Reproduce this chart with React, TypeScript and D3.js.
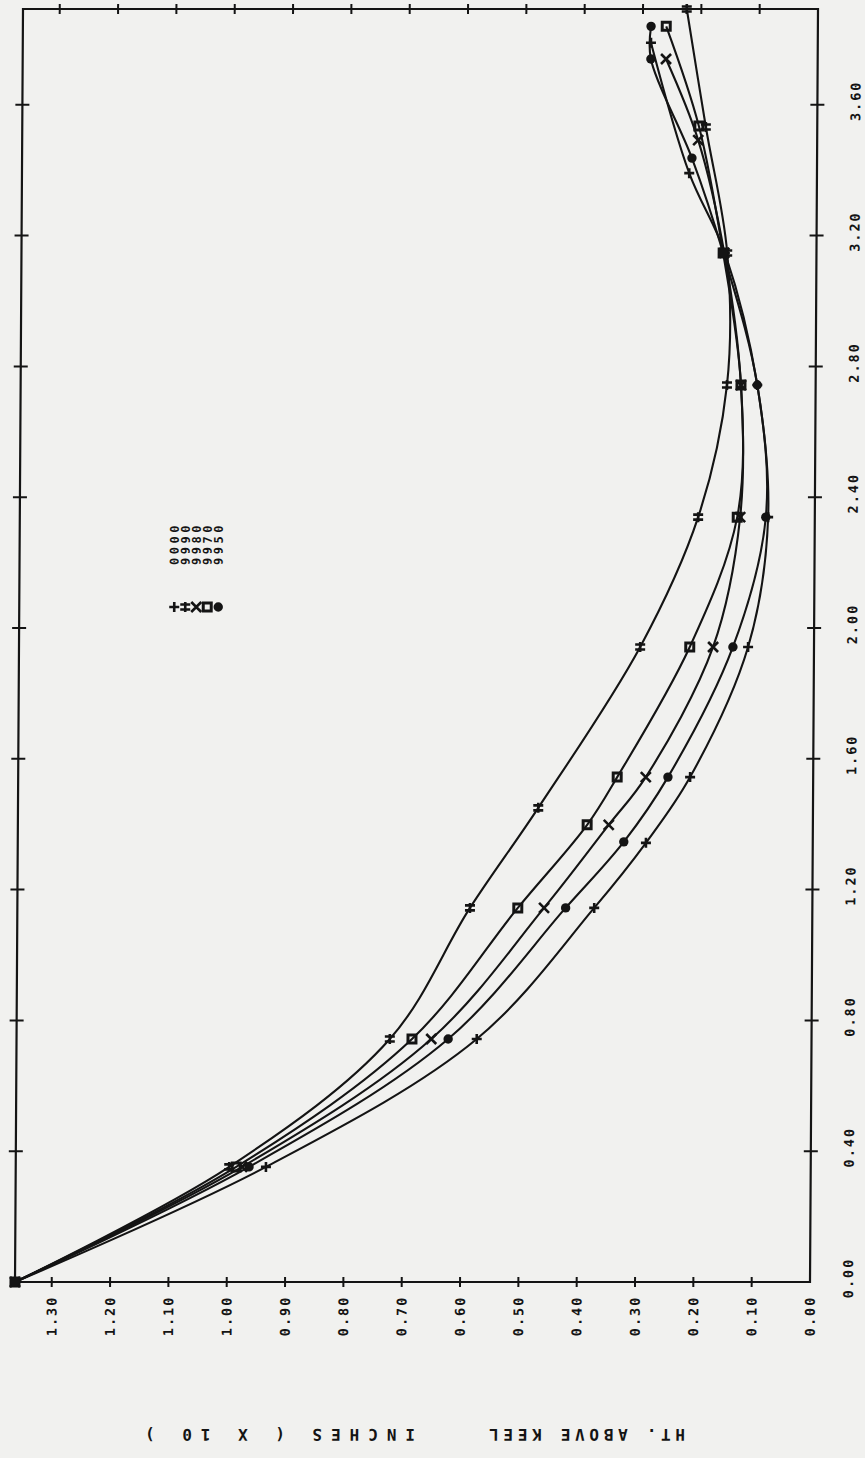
import React from 'react';
import * as d3 from 'd3';

const W = 865;
const H = 1458;

// ---- axis ticks ----
const xTickValues = [0.4, 0.8, 1.2, 1.6, 2.0, 2.4, 2.8, 3.2, 3.6];
const xLabelValues = [0, 0.4, 0.8, 1.2, 1.6, 2.0, 2.4, 2.8, 3.2, 3.6];
const xLabels = ['0.00', '0.40', '0.80', '1.20', '1.60', '2.00', '2.40', '2.80', '3.20', '3.60'];
const yTickValues = [0.1, 0.2, 0.3, 0.4, 0.5, 0.6, 0.7, 0.8, 0.9, 1.0, 1.1, 1.2, 1.3];
const yLabelValues = [0, 0.1, 0.2, 0.3, 0.4, 0.5, 0.6, 0.7, 0.8, 0.9, 1.0, 1.1, 1.2, 1.3];
const yLabels = ['0.00', '0.10', '0.20', '0.30', '0.40', '0.50', '0.60', '0.70', '0.80', '0.90', '1.00', '1.10', '1.20', '1.30'];
const titlePart1 = 'HT. ABOVE KEEL';
const titlePart2 = 'INCHES ( X 10 )';

// ---- series (x, HT. ABOVE KEEL) ----
const x0000 = [0, 0.352, 0.743, 1.144, 1.343, 1.544, 1.942, 2.339, 2.743, 3.147, 3.391, 3.79];
const y0000 = [1.363, 0.934, 0.574, 0.374, 0.286, 0.211, 0.113, 0.080, 0.100, 0.157, 0.219, 0.286];

const x9990 = [0, 0.352, 0.743, 1.144, 1.45, 1.942, 2.339, 2.743, 3.147, 3.532, 3.893];
const y9990 = [1.363, 0.997, 0.723, 0.587, 0.471, 0.298, 0.2, 0.152, 0.153, 0.191, 0.225];

const x9980 = [0, 0.352, 0.743, 1.144, 1.398, 1.544, 1.942, 2.339, 2.743, 3.147, 3.492, 3.74];
const y9980 = [1.363, 0.975, 0.652, 0.46, 0.35, 0.287, 0.173, 0.128, 0.128, 0.158, 0.204, 0.26];

const x9970 = [0, 0.352, 0.743, 1.144, 1.398, 1.544, 1.942, 2.339, 2.743, 3.147, 3.535, 3.84];
const y9970 = [1.363, 0.985, 0.685, 0.505, 0.387, 0.336, 0.213, 0.133, 0.128, 0.16, 0.203, 0.26];

const x9950 = [0, 0.352, 0.743, 1.144, 1.346, 1.544, 1.942, 2.339, 2.743, 3.147, 3.437, 3.74, 3.84];
const y9950 = [1.363, 0.963, 0.623, 0.423, 0.324, 0.249, 0.139, 0.084, 0.1, 0.16, 0.2145, 0.286, 0.286];

const seriesNames = ['0000', '9990', '9980', '9970', '9950'];
const seriesKinds = ['plus', 'dagger', 'x', 'square', 'dot'];
const seriesXs = [x0000, x9990, x9980, x9970, x9950];
const seriesYs = [y0000, y9990, y9980, y9970, y9950];

const X_MAX = 3.893;
const Y_MAX = 1.363;

const INK = '#141414';
const FONT = "'DejaVu Sans Mono', 'Liberation Mono', monospace";

function Marker({ kind, x, y }: { kind: string; x: number; y: number }) {
  const s = 5;
  const common = { stroke: INK, strokeWidth: 2.6, fill: 'none' } as const;
  if (kind === 'plus')
    return <path d={`M${x - s},${y}H${x + s}M${x},${y - s}V${y + s}`} {...common} />;
  if (kind === 'dagger')
    return (
      <path
        d={`M${x},${y - s}V${y + s}M${x - s},${y - 2.5}H${x + s}M${x - s},${y + 2.5}H${x + s}`}
        {...common}
      />
    );
  if (kind === 'x')
    return (
      <path d={`M${x - s},${y - s}L${x + s},${y + s}M${x - s},${y + s}L${x + s},${y - s}`} {...common} />
    );
  if (kind === 'square')
    return <rect x={x - 4} y={y - 4} width={8} height={8} stroke={INK} strokeWidth={3} fill="none" />;
  return <circle cx={x} cy={y} r={4.7} fill={INK} />;
}

export default function App() {
  // data x runs up the page, data y runs right-to-left (scanned page turned on its side)
  const sx = d3.scaleLinear().domain([0, X_MAX]).range([1282, 9]);
  const sy = d3.scaleLinear().domain([0, Y_MAX]).range([810, 15]);

  const line = d3
    .line<[number, number]>()
    .x((d) => sy(d[1]))
    .y((d) => sx(d[0]))
    .curve(d3.curveCatmullRom.alpha(0.5));

  const left = sy(Y_MAX);
  const right = sy(0);
  const top = sx(X_MAX);
  const bottom = sx(0);

  const k = 8 / 1273;
  const skewDeg = (Math.atan(k) * 180) / Math.PI;

  const series = seriesNames.map((name, i) => ({
    name,
    kind: seriesKinds[i],
    pts: seriesXs[i].map((xv, j) => [xv, seriesYs[i][j]] as [number, number]),
  }));

  const labelProps = {
    textAnchor: 'middle' as const,
    dominantBaseline: 'central' as const,
    fontFamily: FONT,
    fontWeight: 'bold' as const,
    fontSize: 13.5,
    letterSpacing: 2,
    fill: INK,
  };

  return (
    <div style={{ position: 'absolute', left: 0, top: 0 }}>
      <svg width={W} height={H} style={{ display: 'block', background: '#f1f1ef' }}>
        <rect x={0} y={0} width={W} height={H} fill="#f1f1ef" />
        <g transform={`translate(${k * bottom},0) skewX(${-skewDeg})`}>
          {/* frame */}
          <rect
            x={left}
            y={top}
            width={right - left}
            height={bottom - top}
            fill="none"
            stroke={INK}
            strokeWidth={2.2}
          />
          {/* ticks for data x (left and right edges) */}
          {xTickValues.map((v) => (
            <g key={'xt' + v}>
              <line x1={left - 7} x2={left + 7} y1={sx(v)} y2={sx(v)} stroke={INK} strokeWidth={2} />
              <line x1={right - 7} x2={right + 7} y1={sx(v)} y2={sx(v)} stroke={INK} strokeWidth={2} />
            </g>
          ))}
          {/* ticks for data y (top and bottom edges) */}
          {yTickValues.map((v) => (
            <g key={'yt' + v}>
              <line x1={sy(v)} x2={sy(v)} y1={top - 5} y2={top + 5} stroke={INK} strokeWidth={2} />
              <line x1={sy(v)} x2={sy(v)} y1={bottom - 5} y2={bottom + 5} stroke={INK} strokeWidth={2} />
            </g>
          ))}
          {/* x labels */}
          {xLabelValues.map((v, i) => (
            <text key={'xl' + v} transform={`translate(848,${sx(v) - 4}) rotate(-90)`} {...labelProps}>
              {xLabels[i]}
            </text>
          ))}
          {/* y labels */}
          {yLabelValues.map((v, i) => (
            <text key={'yl' + v} transform={`translate(${sy(v)},1316) rotate(-90)`} {...labelProps}>
              {yLabels[i]}
            </text>
          ))}
          {/* axis title (upside down, as on the scanned page) */}
          <text
            transform="translate(588,1434) rotate(180)"
            textAnchor="middle"
            dominantBaseline="central"
            fontFamily={FONT}
            fontWeight="bold"
            fontSize={16}
            fill={INK}
            textLength={196}
            lengthAdjust="spacing"
          >
            {titlePart1}
          </text>
          <text
            transform="translate(281,1434) rotate(180)"
            textAnchor="middle"
            dominantBaseline="central"
            fontFamily={FONT}
            fontWeight="bold"
            fontSize={16}
            fill={INK}
            textLength={270}
            lengthAdjust="spacing"
            style={{ whiteSpace: 'pre' }}
          >
            {titlePart2}
          </text>
          {/* curves */}
          {series.map((s) => (
            <path key={'l' + s.name} d={line(s.pts) || ''} fill="none" stroke={INK} strokeWidth={2.1} />
          ))}
          {/* markers */}
          {series.map((s) =>
            s.pts.map((p, j) => <Marker key={s.name + j} kind={s.kind} x={sy(p[1])} y={sx(p[0])} />)
          )}
          {/* legend */}
          {series.map((s, i) => {
            const lx = 170 + i * 11;
            return (
              <g key={'lg' + s.name}>
                <Marker kind={s.kind} x={lx} y={607} />
                <text
                  transform={`translate(${lx},565) rotate(-90)`}
                  textAnchor="start"
                  dominantBaseline="central"
                  fontFamily={FONT}
                  fontWeight="bold"
                  fontSize={12}
                  letterSpacing={3.5}
                  fill={INK}
                >
                  {s.name}
                </text>
              </g>
            );
          })}
        </g>
      </svg>
    </div>
  );
}
